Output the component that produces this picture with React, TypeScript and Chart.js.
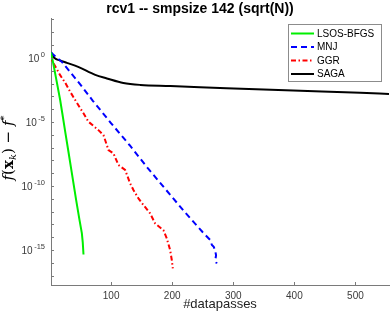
import React, { useEffect, useRef } from 'react';
import { Chart, registerables } from 'chart.js';

Chart.register(...registerables);

const TITLE = 'rcv1 -- smpsize 142 (sqrt(N))';
const X_LABEL = '#datapasses';

const xTicks = [100, 200, 300, 400, 500];
const yMajorExp = [0, -5, -10, -15];
const yDecadeRange = [-17, 3];
const xRange = [1.5, 555];
const yRange = [1.9e-18, 1.3e3];

const seriesNames = ['LSOS-BFGS', 'MNJ', 'GGR', 'SAGA'];

const lsosX = [1.5, 5, 10, 16.5, 20, 25, 30, 35, 42.7, 48, 52, 53.5, 54.7];
const lsosY = [2.7, 4.2e-1, 2.3e-2, 5.2e-4, 4.8e-5, 1.5e-6, 5.0e-8, 1.6e-9, 8.1e-12, 2.5e-13, 2.1e-14, 4.0e-15, 4.6e-16];

const mnjX = [1.5, 10, 20, 30, 50, 70, 100, 130, 160, 190, 220, 250, 262, 265, 268, 270.2, 271.8, 270.5, 273];
const mnjY = [2.7, 1.12, 4.5e-1, 1.15e-1, 7.9e-3, 4.5e-4, 7.9e-6, 1.6e-7, 2.5e-9, 5.0e-11, 1.0e-12, 2.5e-14, 6.3e-15, 2.5e-15, 1.8e-15, 1.0e-15, 4.0e-16, 1.6e-16, 9.0e-17];

const ggrX = [1.5, 2.9, 5.6, 16.5, 25, 32.9, 41.1, 49.3, 54.7, 62.8, 79.2, 87.4, 95.6, 103.8, 111.9, 122.9, 131.1, 136.5, 144.7, 152.9, 163.8, 172, 185.6, 191.2, 196.6, 199.3, 201];
const ggrY = [2.7, 6.6e-1, 3.9e-1, 4.5e-2, 1.1e-2, 2.3e-3, 5.2e-4, 1.2e-4, 4.8e-5, 1.05e-5, 2.3e-6, 9.5e-7, 6.5e-8, 3.5e-8, 4.4e-9, 1.8e-9, 1.6e-10, 4.9e-11, 1.1e-11, 3.3e-12, 7.4e-13, 1.2e-13, 3.6e-14, 8.1e-15, 1.0e-15, 1.7e-16, 3.7e-17];

const sagaX = [1.5, 5, 10, 16.5, 27.5, 46, 74, 93, 120, 148, 197, 289, 398, 508, 555];
const sagaY = [2.8, 1.32, 7.9e-1, 6.3e-1, 4.1e-1, 2.0e-1, 4.7e-2, 2.5e-2, 1.1e-2, 7.8e-3, 6.5e-3, 4.3e-3, 2.8e-3, 1.95e-3, 1.55e-3];

const AXIS_COLOR = '#7a7a7a';
const LABEL_COLOR = '#3a3a3a';
const SANS = "'Liberation Sans', Arial, Helvetica, sans-serif";
const SERIF = "'DejaVu Serif', 'Liberation Serif', serif";

const pts = (xs: number[], ys: number[]) => xs.map((x, i) => ({ x, y: ys[i] }));

const customPlugin = {
  id: 'customDraw',
  afterDraw(chart: any) {
    const { ctx, chartArea, scales } = chart;
    const xs = scales.x;
    const ys = scales.y;
    ctx.save();

    // inward tick marks
    ctx.strokeStyle = AXIS_COLOR;
    ctx.lineWidth = 1;
    ctx.beginPath();
    xTicks.forEach((v) => {
      const p = Math.round(xs.getPixelForValue(v)) + 0.5;
      ctx.moveTo(p, chartArea.bottom);
      ctx.lineTo(p, chartArea.bottom - 3);
    });
    ys.ticks.forEach((t: any) => {
      const p = Math.round(ys.getPixelForValue(t.value)) + 0.5;
      ctx.moveTo(chartArea.left, p);
      ctx.lineTo(chartArea.left + 3, p);
    });
    ctx.stroke();

    // y tick labels 10^e
    ctx.fillStyle = LABEL_COLOR;
    ctx.textBaseline = 'alphabetic';
    ctx.textAlign = 'left';
    yMajorExp.forEach((e) => {
      const p = ys.getPixelForValue(Math.pow(10, e));
      const base = '10';
      const exp = String(e);
      ctx.font = `10px ${SANS}`;
      const wb = ctx.measureText(base).width;
      ctx.font = `7.5px ${SANS}`;
      const we = ctx.measureText(exp).width;
      const right = chartArea.left - 6;
      const left = right - we - 1.5 - wb;
      ctx.font = `10px ${SANS}`;
      ctx.fillText(base, left, p + 4);
      ctx.font = `7.5px ${SANS}`;
      ctx.fillText(exp, left + wb + 1.5, p - 1);
    });

    // title
    ctx.fillStyle = '#000';
    ctx.font = `bold 14px ${SANS}`;
    ctx.textAlign = 'center';
    ctx.textBaseline = 'middle';
    ctx.fillText(TITLE, 200, 9);

    // y axis label f(x_k) - f*
    ctx.save();
    ctx.translate(13, 148);
    ctx.rotate(-Math.PI / 2);
    ctx.fillStyle = '#000';
    ctx.textAlign = 'left';
    ctx.textBaseline = 'alphabetic';
    const parts: [string, string, number][] = [
      ['f', `italic 15px ${SERIF}`, 0],
      ['(', `15px ${SERIF}`, 0],
      ['x', `bold 15px ${SERIF}`, 0],
      ['k', `italic 10px ${SERIF}`, 3],
      [')', `15px ${SERIF}`, 0],
      [' \u2212 ', `15px ${SERIF}`, 0],
      ['f', `italic 15px ${SERIF}`, 0],
      ['*', `10px ${SERIF}`, -6],
    ];
    let total = 0;
    parts.forEach(([t, f]) => {
      ctx.font = f;
      total += ctx.measureText(t).width;
    });
    let cx = -total / 2;
    parts.forEach(([t, f, dy]) => {
      ctx.font = f;
      ctx.fillText(t, cx, dy);
      cx += ctx.measureText(t).width;
    });
    ctx.restore();

    // legend
    const lx = 288.5, ly = 24.5, lw = 93, lh = 57;
    ctx.fillStyle = '#fff';
    ctx.fillRect(lx, ly, lw, lh);
    ctx.strokeStyle = '#8c8c8c';
    ctx.lineWidth = 1;
    ctx.strokeRect(lx, ly, lw, lh);
    chart.data.datasets.forEach((ds: any, i: number) => {
      const y = 33.5 + i * 13.5;
      ctx.strokeStyle = ds.borderColor;
      ctx.lineWidth = ds.borderWidth;
      ctx.setLineDash(ds.borderDash || []);
      ctx.beginPath();
      ctx.moveTo(291, y);
      ctx.lineTo(314, y);
      ctx.stroke();
      ctx.setLineDash([]);
      ctx.fillStyle = '#000';
      ctx.font = `10px ${SANS}`;
      ctx.textAlign = 'left';
      ctx.textBaseline = 'middle';
      ctx.fillText(ds.label, 317, y + 0.5);
    });

    ctx.restore();
  },
};

export default function App() {
  const canvasRef = useRef<HTMLCanvasElement | null>(null);

  useEffect(() => {
    document.body.style.margin = '0';
    const canvas = canvasRef.current;
    if (!canvas) return;
    const chart = new Chart(canvas, {
      type: 'line',
      data: {
        datasets: [
          {
            label: seriesNames[0],
            data: pts(lsosX, lsosY),
            borderColor: '#00ee00',
            borderWidth: 2,
            pointRadius: 0,
            tension: 0,
          },
          {
            label: seriesNames[1],
            data: pts(mnjX, mnjY),
            borderColor: '#0000ff',
            borderWidth: 2,
            borderDash: [6, 4],
            pointRadius: 0,
            tension: 0,
          },
          {
            label: seriesNames[2],
            data: pts(ggrX, ggrY),
            borderColor: '#ff0000',
            borderWidth: 2,
            borderDash: [5, 2.5, 1.5, 2.5],
            pointRadius: 0,
            tension: 0,
          },
          {
            label: seriesNames[3],
            data: pts(sagaX, sagaY),
            borderColor: '#000000',
            borderWidth: 2,
            pointRadius: 0,
            cubicInterpolationMode: 'monotone',
          },
        ],
      },
      options: {
        animation: false,
        responsive: false,
        devicePixelRatio: 1,
        parsing: false,
        normalized: false,
        layout: { padding: { top: 18, right: 1, left: 0, bottom: 0 } },
        plugins: {
          legend: { display: false },
          title: { display: false },
          tooltip: { enabled: false },
        },
        scales: {
          x: {
            type: 'linear',
            min: xRange[0],
            max: xRange[1],
            afterBuildTicks: (scale: any) => {
              scale.ticks = xTicks.map((v) => ({ value: v }));
            },
            afterFit: (scale: any) => {
              scale.height = 35;
            },
            grid: { display: false, drawTicks: false },
            border: { display: true, color: AXIS_COLOR, width: 1 },
            ticks: {
              color: LABEL_COLOR,
              font: { family: SANS, size: 10 },
              padding: 5,
              maxRotation: 0,
              autoSkip: false,
              callback: (v: any) => String(v),
            },
            title: {
              display: true,
              text: X_LABEL,
              color: '#222',
              font: { family: SANS, size: 13 },
              padding: { top: 0, bottom: 8 },
            },
          },
          y: {
            type: 'logarithmic',
            min: yRange[0],
            max: yRange[1],
            afterBuildTicks: (scale: any) => {
              const t: any[] = [];
              for (let e = yDecadeRange[0]; e <= yDecadeRange[1]; e++) t.push({ value: Math.pow(10, e) });
              scale.ticks = t;
            },
            afterFit: (scale: any) => {
              scale.width = 51;
            },
            grid: { display: false, drawTicks: false },
            border: { display: true, color: AXIS_COLOR, width: 1 },
            ticks: { display: false },
          },
        },
      },
      plugins: [customPlugin],
    } as any);
    return () => chart.destroy();
  }, []);

  return (
    <div style={{ width: 390, height: 320 }}>
      <canvas ref={canvasRef} width={390} height={320} />
    </div>
  );
}
